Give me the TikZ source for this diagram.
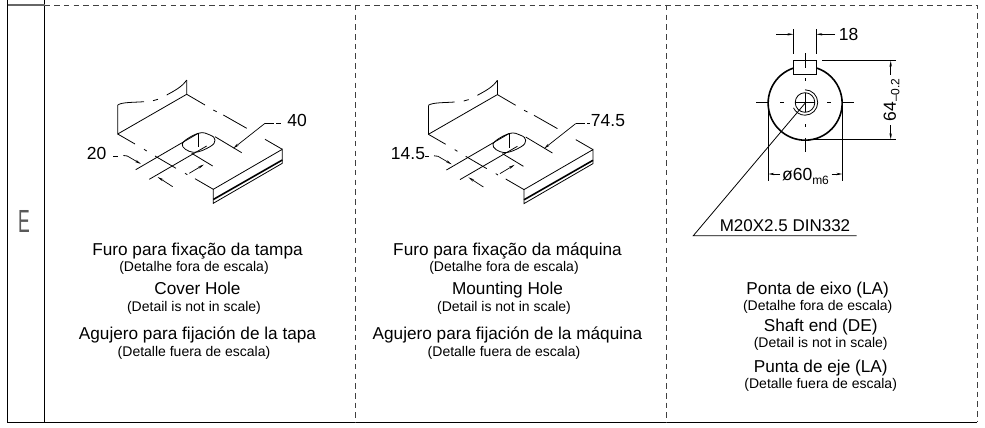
\documentclass[tikz,border=0pt]{standalone}
\usepackage{fontspec}
\setmainfont{Liberation Sans}
\usetikzlibrary{arrows.meta,positioning}

\tikzset{
	part/.style={line width=0.8pt},
	thick part/.style={line width=1.6pt},
	dim/.style={line width=0.7pt,-{Stealth[length=6pt,width=2.4pt]}},
	frame/.style={line width=1pt},
	cut/.style={line width=0.9pt,black!75,dash pattern=on 5.5pt off 4.2pt},
	title/.style={inner sep=0pt,text height=13pt,text depth=4pt,font=\fontsize{17.2}{17.2}\selectfont},
	note/.style={inner sep=0pt,text height=11pt,text depth=3pt,font=\fontsize{14}{14}\selectfont},
	dimtext/.style={inner sep=0pt,font=\fontsize{17.5}{17.5}\selectfont},
	pics/slotpart/.style={code={
		% wall
		\draw[part] (186.7,80) -- (186.7,94.3) -- (117.7,134) -- (117.7,105);
		\draw[part] (117.7,105) .. controls (122,102) and (134,102.5) .. (144,101.7);
		\draw[part] (153,100.7) -- (158,99.3);
		\draw[part] (166.7,95) .. controls (174,91) and (182,87) .. (186.7,80);
		% back edge
		\draw[part] (186.7,94.3) -- (205,105);
		\draw[part] (213.3,110) -- (216.7,111.7);
		\draw[part] (223.3,115) -- (246.7,128.3);
		\draw[part] (265,139.3) -- (282.3,149.3);
		% front edge
		\draw[part] (117.7,134) -- (135,144);
		\draw[part] (144,149.3) -- (146.7,151);
		\draw[part] (155,156) -- (176,168.3);
		\draw[part] (185,173.3) -- (187.3,174.7);
		\draw[part] (195,178.7) -- (213.3,189.3);
		% plate
		\draw[part] (282.3,149.3) -- (213.3,189.3) -- (213.3,203.3) -- (282.3,163.3) -- cycle;
		\draw[thick part] (213.3,199.5) -- (282.3,160);
		% slot
		\draw[part] (135.7,169.7) -- (198.3,133.3);
		\draw[part] (149.3,179.3) -- (206.7,146);
		\draw[part] (215,136.7) -- (241.7,152.7);
		\draw[part] (191.7,153.3) -- (212.7,166);
		\draw[part] plot[smooth cycle,tension=0.7] coordinates {(182.3,144) (193.3,152.3) (210,146.7) (215,140) (210,135) (198.3,133.3)};
		\draw[part] (198.3,133.3) -- (198.3,147.3);
		% arrows
		\draw[dim] (172.7,186.7) -- (157.7,177);
		\draw[dim] (189.3,173.3) -- (204,164.5);
		\draw[dim] (127.3,156) -- (141,164);
		\draw[dim] (265,123.3) -- (233.3,148.3);
	}},
}

\begin{document}
\begin{tikzpicture}[x=1pt,y=-1pt,node distance=1pt]
	\useasboundingbox (0,0) rectangle (985,428);

	% sheet
	\draw[frame] (7.5,0) -- (7.5,422.3) -- (977,422.3);
	\draw[frame] (44.5,0) -- (44.5,422.3);
	\draw[line width=1.2pt,black!60] (7.5,5) -- (44.5,5);
	\draw[cut] (44.5,5) -- (977,5) -- (977,422.3);
	\draw[cut] (355,5) -- (355,422.3);
	\draw[cut] (666,5) -- (666,422.3);
	\node[inner sep=0pt,black!65,font=\fontsize{32}{32}\selectfont,xscale=0.55] (rowE) at (24,221.5) {E};

	% cover hole
	\pic (coverpart) at (0,0) {slotpart};
	\draw[part] (113.3,156) -- (118.3,156);
	\draw[part] (123.3,155.5) -- (127.3,156);
	\draw[part] (265,123.3) -- (274,123.3);
	\draw[part] (276,123.3) -- (280.7,123.3);
	\node[dimtext] (depthA) at (96.7,153.5) {20};
	\node[dimtext] (depthB) at (297,120.7) {40};

	\node[title,anchor=base] (coverpt) at (197.5,255) {Furo para fixação da tampa};
	\node[note,below=of coverpt,xshift=-3.5pt] (coverptn) {(Detalhe fora de escala)};
	\node[title,below=7pt of coverptn,xshift=3.5pt] (coveren) {Cover Hole};
	\node[note,below=of coveren,xshift=-3.5pt] (coverenn) {(Detail is not in scale)};
	\node[title,below=12pt of coverenn,xshift=3.5pt] (coveres) {Agujero para fijación de la tapa};
	\node[note,below=of coveres,xshift=-3.5pt] (coveresn) {(Detalle fuera de escala)};

	% mounting hole
	\pic (mountpart) at (310.7,0.3) {slotpart};
	\draw[part] (425,156.3) -- (429,156.3);
	\draw[part] (434,155.8) -- (438,156.3);
	\draw[part] (575.7,123.6) -- (585,123.6);
	\draw[part] (587,123.6) -- (590,123.6);
	\node[dimtext] (depthC) at (408,153.5) {14.5};
	\node[dimtext] (depthD) at (608,120.7) {74.5};

	\node[title,anchor=base] (mountpt) at (507.5,255) {Furo para fixação da máquina};
	\node[note,below=of mountpt,xshift=-3.5pt] (mountptn) {(Detalhe fora de escala)};
	\node[title,below=7pt of mountptn,xshift=3.5pt] (mounten) {Mounting Hole};
	\node[note,below=of mounten,xshift=-3.5pt] (mountenn) {(Detail is not in scale)};
	\node[title,below=12pt of mountenn,xshift=3.5pt] (mountes) {Agujero para fijación de la máquina};
	\node[note,below=of mountes,xshift=-3.5pt] (mountesn) {(Detalle fuera de escala)};

	% shaft end
	\draw[thick part] (793.7,68) arc[start angle=108,end angle=432,radius=37pt];
	\draw[part] (793.5,60.7) rectangle (816.3,74);
	\draw[part] (805,102.5) circle[radius=9.8pt];
	\draw[part] (805,89.8) arc[start angle=90,end angle=-155,radius=12.7pt];
	% centre lines
	\draw[part] (805,53.3) -- (805,68.3);
	\draw[part] (805,78) -- (805,80.5);
	\draw[part] (805,93) -- (805,112);
	\draw[part] (805,124) -- (805,127);
	\draw[part] (805,138) -- (805,152);
	\draw[part] (756,102.7) -- (768,102.7);
	\draw[part] (780,102.7) -- (784,102.7);
	\draw[part] (795,102.7) -- (815,102.7);
	\draw[part] (827.3,102.7) -- (830.7,102.7);
	\draw[part] (842,102.7) -- (854.3,102.7);
	% dimensions
	\draw[part] (793.4,29.3) -- (793.4,54.3);
	\draw[part] (816.3,29.3) -- (816.3,54.3);
	\draw[dim] (776,34.3) -- (793.4,34.3);
	\draw[dim] (835,34.3) -- (816.3,34.3);
	\node[dimtext] (keywidth) at (848.5,34.5) {18};
	\draw[part] (822.3,60.7) -- (896,60.7);
	\draw[part] (808.3,139.3) -- (896,139.3);
	\draw[dim] (890.7,75) -- (890.7,60.7);
	\draw[dim] (890.7,125) -- (890.7,139.3);
	\node[dimtext,rotate=90] (keyheight) at (891.5,100) {64\raisebox{-3.5pt}{\fontsize{12}{12}\selectfont –0.2}};
	\draw[part] (768.3,104) -- (768.3,181);
	\draw[part] (842.3,104) -- (842.3,181);
	\draw[dim] (780,174) -- (768.3,174);
	\draw[dim] (831.7,174) -- (842.3,174);
	\node[dimtext] (shaftdia) at (805.5,176.5) {ø60\raisebox{-3.5pt}{\fontsize{12}{12}\selectfont m6}};
	% centre hole
	\coordinate (holeC) at (805,103.3);
	\coordinate (leaderA) at (693.3,235.7);
	\coordinate (leaderB) at (856.7,235.7);
	\draw[part] (holeC) -- (leaderA) -- (leaderB);
	\node[inner sep=0pt,font=\fontsize{17}{17}\selectfont,anchor=base] (thread) at (785,231) {M20X2.5 DIN332};

	\node[title,anchor=base] (shaftpt) at (817.7,294) {Ponta de eixo (LA)};
	\node[note,below=of shaftpt] (shaftptn) {(Detalhe fora de escala)};
	\node[title,below=5pt of shaftptn,xshift=3pt] (shaften) {Shaft end (DE)};
	\node[note,below=0pt of shaften] (shaftenn) {(Detail is not in scale)};
	\node[title,below=9pt of shaftenn] (shaftes) {Punta de eje (LA)};
	\node[note,below=0pt of shaftes] (shaftesn) {(Detalle fuera de escala)};
\end{tikzpicture}
\end{document}
